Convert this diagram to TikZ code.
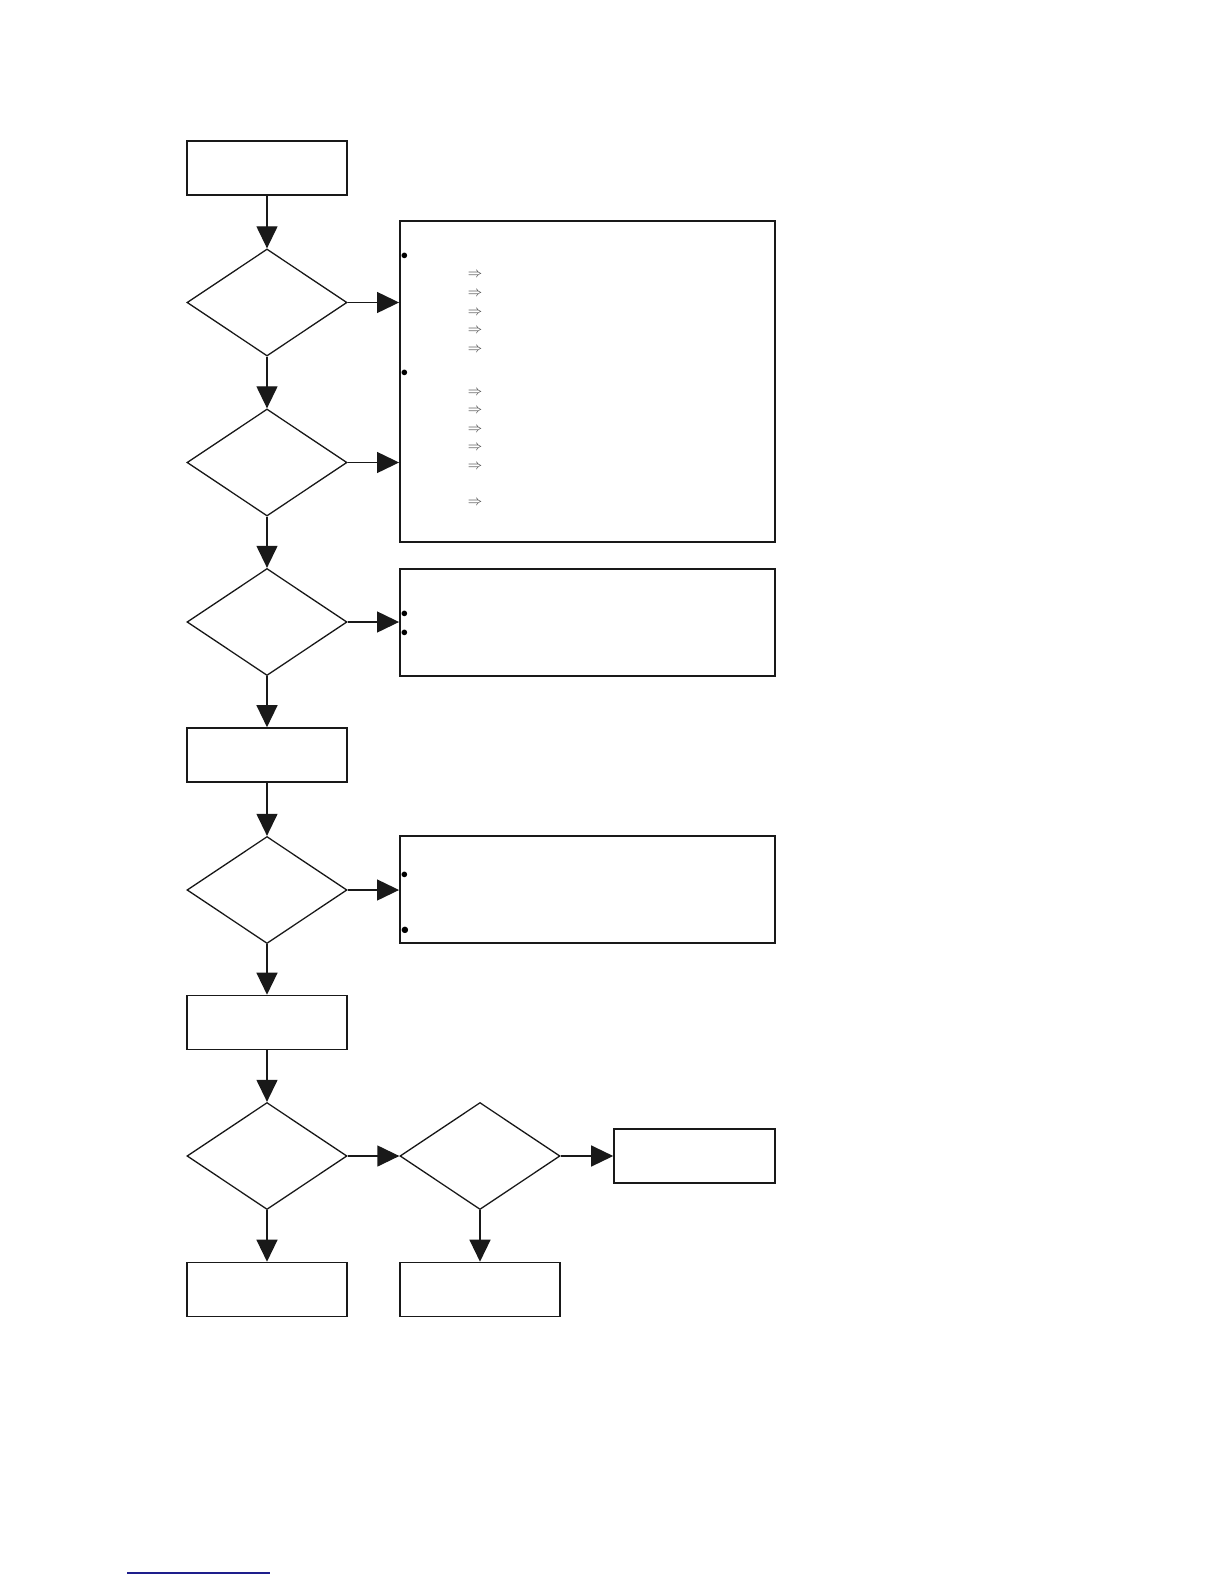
\documentclass[tikz,border=0pt]{standalone}
\usetikzlibrary{arrows.meta,shapes.geometric}
\definecolor{linkblue}{RGB}{30,30,140}
\definecolor{arrgray}{RGB}{60,60,60}
\tikzset{
  procbox/.style={draw=black!90,line width=1.6pt,minimum width=160pt,minimum height=54pt,inner sep=0pt},
  notebox/.style={draw=black!90,line width=1.9pt,minimum width=375pt,inner sep=0pt},
  decision/.style={diamond,draw=black!90,line width=1.3pt,minimum width=160pt,minimum height=107pt,inner sep=0pt},
  conn/.style={draw=black!90,line width=1.3pt,-{Triangle[length=22pt,width=21pt]}},
  dot/.style={inner sep=0pt,font=\fontsize{15}{17}\selectfont},
  impl/.style={inner sep=0pt,text=arrgray,font=\fontsize{14}{16}\selectfont}
}
\begin{document}
\begin{tikzpicture}[x=1pt,y=-1pt]
\useasboundingbox (0,0) rectangle (1224,1584);
% left column
\node[procbox] (b1) at (267,168) {};
\node[decision] (d1) at (267,302.5) {};
\node[decision] (d2) at (267,462.5) {};
\node[decision] (d3) at (267,622) {};
\node[procbox] (b2) at (267,755) {};
\node[decision] (d4) at (267,890) {};
\node[procbox] (b3) at (267,1022.5) {};
\node[decision] (d5) at (267,1156) {};
\node[procbox] (b5) at (267,1289.5) {};
% second column
\node[decision] (d6) at (480,1156) {};
\node[procbox] (b6) at (480,1289.5) {};
\node[procbox,minimum width=161pt] (b4) at (694.5,1156) {};
% note boxes
\node[notebox,minimum height=321pt] (nA) at (587.5,381.5) {};
\node[notebox,minimum height=107pt] (nB) at (587.5,622.5) {};
\node[notebox,minimum height=107pt] (nC) at (587.5,889.5) {};
% bullets and implication marks
\node[dot] (a1) at (404.5,256) {$\bullet$};
\node[dot] (a2) at (404.5,373) {$\bullet$};
\foreach \yy [count=\i] in {275.2,293.4,312.5,331,349.9,392.4,410.7,429.5,447.9,467.1,502.5}
  \node[impl] (r\i) at (475,\yy) {$\Rightarrow$};
\node[dot] (bb1) at (404.5,614) {$\bullet$};
\node[dot] (bb2) at (404.5,633) {$\bullet$};
\node[dot] (c1) at (404.5,875.6) {$\bullet$};
\node[dot,scale=1.15] (c2) at (405,931) {$\bullet$};
% connectors
\draw[conn] (b1) -- (d1);
\draw[conn] (d1) -- (d2);
\draw[conn] (d2) -- (d3);
\draw[conn] (d3) -- (b2);
\draw[conn] (b2) -- (d4);
\draw[conn] (d4) -- (b3);
\draw[conn] (b3) -- (d5);
\draw[conn] (d5) -- (b5);
\draw[conn] (d6) -- (b6);
\draw[conn] (d1.east) -- (d1.east -| nA.west);
\draw[conn] (d2.east) -- (d2.east -| nA.west);
\draw[conn] (d3.east) -- (d3.east -| nB.west);
\draw[conn] (d4.east) -- (d4.east -| nC.west);
\draw[conn] (d5.east) -- (d6.west);
\draw[conn] (d6.east) -- (b4.west);
% stray underline
\coordinate (u1) at (127,1573);
\coordinate (u2) at (270,1573);
\draw[linkblue,line width=1.4pt] (u1) -- (u2);
\end{tikzpicture}
\end{document}
